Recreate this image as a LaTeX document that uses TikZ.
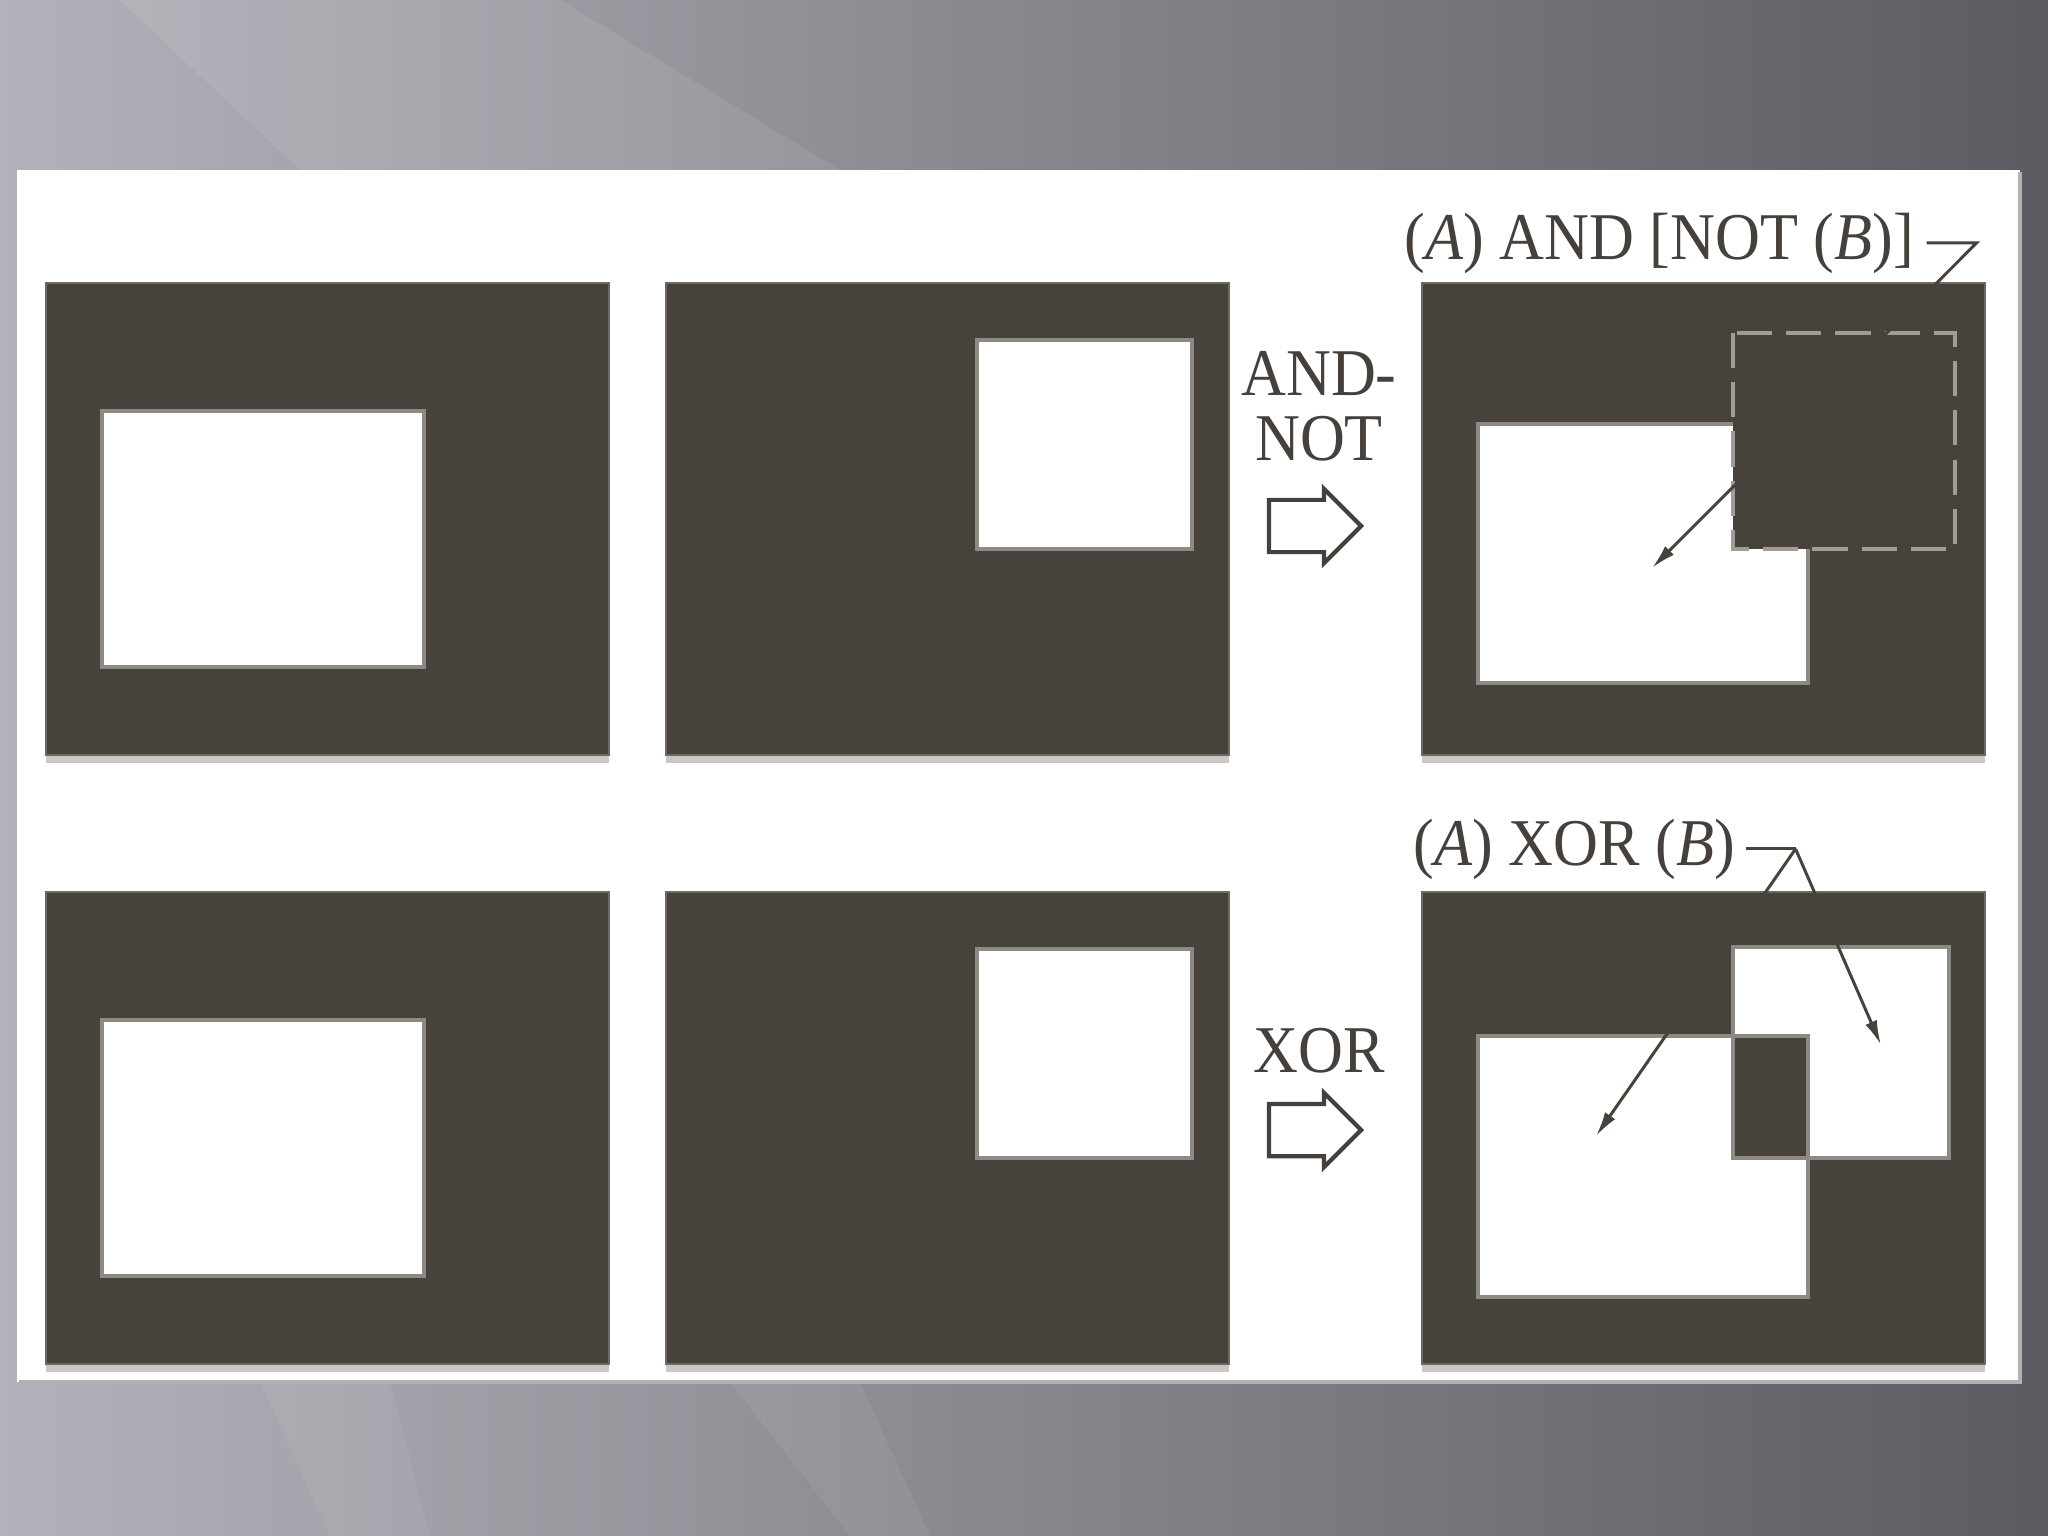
\documentclass[tikz,border=0pt]{standalone}
\usepackage{fontspec}
\setmainfont{Liberation Serif}[FakeStretch=0.93]
\usetikzlibrary{shapes.arrows, arrows.meta}

\definecolor{bgdark}{HTML}{5C5B61}
\definecolor{bgmid}{HTML}{7E7D83}
\definecolor{bglight}{HTML}{B2B2BA}
\definecolor{boxfill}{HTML}{48423C}
\definecolor{boxedge}{HTML}{6E6963}
\definecolor{rimgray}{HTML}{8D8983}
\definecolor{dashgray}{HTML}{A19C96}
\definecolor{shadowgray}{HTML}{CBC8C3}
\definecolor{inkgray}{HTML}{45403B}

\begin{document}
\begin{tikzpicture}[x = 0.01cm, y = -0.01cm,
    panel/.style = {fill = boxfill, draw = boxedge, line width = 0.6pt},
    hole/.style = {fill = white, draw = rimgray, line width = 1.4pt},
    opname/.style = {text = inkgray, font = \fontsize{19}{18.5}\selectfont, align = center, inner sep = 0pt},
    result/.style = {text = inkgray, font = \fontsize{19}{20}\selectfont, inner sep = 0pt, anchor = base west},
    hollow/.style = {single arrow, draw = inkgray, fill = white, line width = 1.2pt, minimum height = 0.92cm, minimum width = 0pt, inner xsep = 0pt, inner ysep = 0.24cm, single arrow head extend = 0.11cm, single arrow tip angle = 90},
    leader/.style = {draw = boxfill, line width = 0.85pt},
    tip/.style = {-{Latex[length = 7pt, width = 3.5pt]}}]
  \useasboundingbox (0,0) rectangle (2048,1536);

  % backdrop and sheet
  \shade[left color = bglight, middle color = bgmid, right color = bgdark] (0,0) rectangle (2048,1536);
  \fill[white, opacity = 0.08] (120,0) -- (560,0) -- (840,170) -- (300,170) -- cycle;
  \fill[white, opacity = 0.06] (260,1382) -- (390,1382) -- (430,1536) -- (330,1536) -- cycle;
  \fill[white, opacity = 0.06] (730,1382) -- (860,1382) -- (930,1536) -- (850,1536) -- cycle;
  \fill[white] (17,170) rectangle (2020,1382);
  \draw[gray!60, line width = 1pt] (2020,172) -- (2020,1382) -- (19,1382);

  % the six frames
  \foreach \py in {283, 892} {
    \foreach \px in {46, 666, 1422} {
      \fill[shadowgray] (\px, \py+8) rectangle ++(563, 472);
      \draw[panel] (\px, \py) rectangle ++(563, 472);
    }
    \draw[hole] (102, \py+128) rectangle ++(322, 256);
    \draw[hole] (977, \py+57) rectangle ++(215, 209);
  }

  % AND-NOT result
  \draw[hole] (1478,424) rectangle (1808,683);
  \draw[panel, draw = dashgray, line width = 1.4pt, dash pattern = on 10pt off 4pt] (1733,333) rectangle (1955,549);
  \coordinate (hit1) at (1652,568);

  % XOR result
  \draw[hole] (1478,1036) rectangle (1808,1297);
  \draw[hole] (1733,947) rectangle (1949,1158);
  \draw[panel, draw = rimgray, line width = 1.4pt] (1733,1036) rectangle (1808,1158);
  \coordinate (hitA) at (1596,1136);
  \coordinate (hitB) at (1881,1045);

  % operators
  \node[opname] (andnot) at (1319,406) {AND-\\NOT};
  \node[hollow] (andnotarrow) at (1302,526) {};
  \node[opname] (xor) at (1319,1051) {XOR};
  \node[hollow] (xorarrow) at (1302,1130) {};

  % result labels
  \node[result] (andnotres) at (1404,259) {(\textit{A}) AND [NOT (\textit{B})]};
  \draw[leader, tip] ([xshift = 0.12cm]andnotres.east) -- ++(50,0) coordinate (bend1) -- (hit1);
  \node[result] (xorres) at (1413,865) {(\textit{A}) XOR (\textit{B})};
  \draw[leader] ([xshift = 0.1cm]xorres.east) -- ++(50,0) coordinate (bend2);
  \draw[leader, tip] (bend2) -- (hitA);
  \draw[leader, tip] (bend2) -- (hitB);
\end{tikzpicture}
\end{document}
